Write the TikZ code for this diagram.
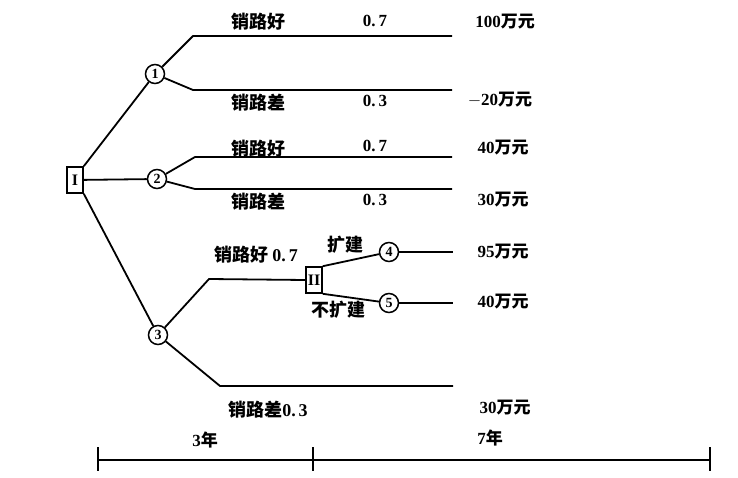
\documentclass[tikz,border=0pt]{standalone}
\usepackage{fontspec}
\setmainfont{Liberation Serif}
\newfontfamily\cjk{Noto Sans CJK SC}
\usepackage{tikz}
\usetikzlibrary{positioning,calc}
\tikzset{
  decision/.style = {draw, rectangle, line width=1.6pt, minimum width=16pt,
                     minimum height=26pt, inner sep=0pt, font=\bfseries\fontsize{16}{16}\selectfont},
  chance/.style   = {draw, circle, line width=1.5pt, minimum size=19pt, inner sep=0pt,
                     font=\bfseries\fontsize{14}{14}\selectfont},
  branch/.style   = {line width=1.8pt, line join=round},
  lbl/.style      = {inner sep=0pt, font=\cjk\bfseries\fontsize{18}{18}\selectfont},
  val/.style      = {inner sep=0pt, font=\bfseries\fontsize{17}{17}\selectfont},
  tick/.style     = {line width=1.6pt}
}
\newcommand{\wy}{{\cjk\bfseries 万元}}

\begin{document}
\begin{tikzpicture}[x=1pt,y=-1pt]
  \useasboundingbox (0,0) rectangle (738,478);
  % decision and chance nodes
  \node[decision] (I)  at (75,180)  {I};
  \node[chance]   (c1) at (155,74)  {1};
  \node[chance]   (c2) at (157,179) {2};
  \node[chance]   (c3) at (158,335) {3};
  \node[decision] (II) at (314,280) {II};
  \node[chance]   (c4) at (389,252) {4};
  \node[chance]   (c5) at (389,303) {5};
  % bends and free ends
  \coordinate (b1) at (193,36);  \coordinate (e1) at (452,36);
  \coordinate (b2) at (193,90);  \coordinate (e2) at (452,90);
  \coordinate (b3) at (195,157); \coordinate (e3) at (452,157);
  \coordinate (b4) at (195,189); \coordinate (e4) at (452,189);
  \coordinate (b5) at (209,279);
  \coordinate (b6) at (220,386); \coordinate (e6) at (453,386);
  \coordinate (e7) at (453,252);
  \coordinate (e8) at (453,303);
  \draw[branch] (I.north east) -- (c1);
  \draw[branch] (I) -- (c2);
  \draw[branch] (I.south east) -- (c3);
  \draw[branch] (c1) -- (b1) -- (e1);
  \draw[branch] (c1) -- (b2) -- (e2);
  \draw[branch] (c2) -- (b3) -- (e3);
  \draw[branch] (c2) -- (b4) -- (e4);
  \draw[branch] (c3) -- (b5) -- (II.west);
  \draw[branch] (c3) -- (b6) -- (e6);
  \draw[branch] (II.north east) -- (c4);
  \draw[branch] (II.south east) -- (c5);
  \draw[branch] (c4) -- (e7);
  \draw[branch] (c5) -- (e8);
  % labels
  \node[lbl] (l1) at (258,22)  {销路好};
  \node[val] (p1) at (375,21)  {0.\,7};
  \node[val] (v1) at (505,22)  {100\wy};
  \node[lbl] (l2) at (258,103) {销路差};
  \node[val] (p2) at (375,101) {0.\,3};
  \node[val] (v2) at (500,100) {$-$20\wy};
  \node[lbl] (l3) at (258,149) {销路好};
  \node[val] (p3) at (375,146) {0.\,7};
  \node[val] (v3) at (503,148) {40\wy};
  \node[lbl] (l4) at (258,202) {销路差};
  \node[val] (p4) at (375,200) {0.\,3};
  \node[val] (v4) at (503,200) {30\wy};
  \node[lbl] (l5) at (256,255) {销路好 {\normalfont\bfseries 0.\,7}};
  \node[lbl] (l6) at (345,245) {扩建};
  \node[lbl] (l7) at (338,310) {不扩建};
  \node[val] (v5) at (503,252) {95\wy};
  \node[val] (v6) at (503,302) {40\wy};
  \node[lbl] (l8) at (268,410) {销路差{\normalfont\bfseries 0.\,3}};
  \node[val] (v7) at (505,408) {30\wy};
  % time scale
  \coordinate (t0) at (98,460);
  \coordinate (t1) at (313,460);
  \coordinate (t2) at (710,460);
  \draw[tick] (t0) -- (t2);
  \foreach \t in {t0,t1,t2}
    \draw[tick] ($(\t)+(0,-13)$) -- ($(\t)+(0,11)$);
  \node[val] (y1) at (205,440) {3{\cjk\bfseries 年}};
  \node[val] (y2) at (490,438) {7{\cjk\bfseries 年}};
\end{tikzpicture}
\end{document}
